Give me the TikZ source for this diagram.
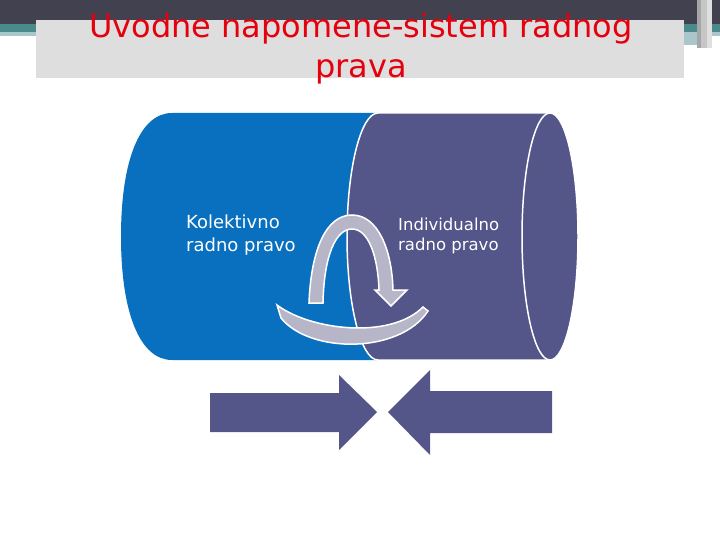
\documentclass[tikz,border=0pt]{standalone}
\usepackage{fontspec}
\setmainfont{DejaVu Sans}
\definecolor{bandDark}{HTML}{41414F}
\definecolor{bandTeal}{HTML}{4B8A8C}
\definecolor{bandLight}{HTML}{A9C7CB}
\definecolor{titleGray}{HTML}{DEDEDE}
\definecolor{titleRed}{HTML}{E6000E}
\definecolor{blueBody}{HTML}{0870BE}
\definecolor{purpleBody}{HTML}{545588}
\definecolor{arrowGray}{HTML}{B6B6C8}

\begin{document}
\begin{tikzpicture}[x=1pt,y=-1pt,
	titletext/.style={text=titleRed, inner sep=0pt, anchor=base, font=\fontsize{32}{40}\selectfont},
	bodytext/.style={text=white, inner sep=0pt, anchor=north west, align=left},
	rim/.style={draw=white, line width=1.5pt},
	bluntarrow/.style={fill=purpleBody}]
	\useasboundingbox (0,0) rectangle (720,540);
	% header bands
	\fill[bandDark] (0,0) rectangle (720,24);
	\fill[bandTeal] (0,24) rectangle (720,32);
	\fill[bandLight] (0,32) rectangle (720,36);
	\fill[bandLight] (684,32) rectangle (697,45);
	\fill[gray!70] (697,0) rectangle (701,48);
	\fill[gray!45] (701,0) rectangle (707,48);
	\fill[gray!25] (707,0) rectangle (712,48);
	\fill[titleGray] (36,20) rectangle (684,78);
	\node[titletext] (title1) at (361,38) {Uvodne napomene-sistem radnog};
	\node[titletext] (title2) at (361,78) {prava};

	% blue cylinder, its right end hidden
	\fill[blueBody] (172,113) .. controls (140,113) and (121,160) .. (121,236.5)
		.. controls (121,313) and (140,360) .. (172,360) -- (400,360) -- (400,113) -- cycle;
	% purple cylinder in front
	\path[fill=purpleBody, rim] (378,113) arc[start angle=270, end angle=90, x radius=31, y radius=123.5]
		-- (550,360) arc[start angle=90, end angle=-90, x radius=28, y radius=123.5] -- cycle;
	\path[fill=purpleBody, rim] (550,236.5) ellipse[x radius=28, y radius=123.5];

	\node[bodytext, font=\fontsize{18}{23}\selectfont] (kolektivno) at (186,215) {Kolektivno\\radno pravo};
	\node[bodytext, font=\fontsize{16.5}{19.5}\selectfont] (individualno) at (398,218) {Individualno\\radno pravo};

	% circular arrow
	\path[fill=arrowGray, rim] (309,303) .. controls (311,250) and (326,215) .. (352,215)
		.. controls (378,215) and (392,250) .. (393,290) -- (407,290) -- (391,306) -- (375,290) -- (379,290)
		.. controls (378,258) and (369,229) .. (352,229) .. controls (336,229) and (324,255) .. (323,303) -- cycle;
	\path[fill=arrowGray, rim] (277,305) .. controls (310,330) and (390,340) .. (423,307) -- (428,311)
		.. controls (400,354) and (310,354) .. (281,318) -- cycle;

	% opposing arrows
	\fill[bluntarrow] (210,393) -- (339,393) -- (339,375) -- (377,412) -- (339,450) -- (339,432) -- (210,432) -- cycle;
	\fill[bluntarrow] (552,391) -- (430,391) -- (430,370) -- (388,412) -- (430,455) -- (430,433) -- (552,433) -- cycle;
\end{tikzpicture}
\end{document}
